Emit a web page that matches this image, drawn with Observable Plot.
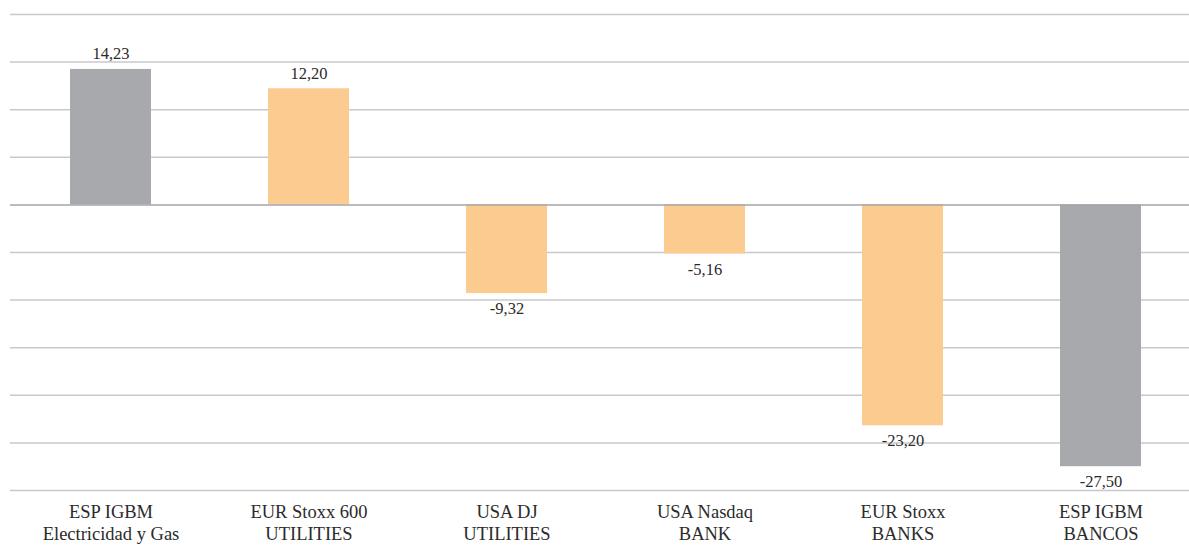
<!DOCTYPE html>
<html>
<head>
<meta charset="utf-8">
<script src="https://cdn.jsdelivr.net/npm/d3@7"></script>
<script src="https://cdn.jsdelivr.net/npm/@observablehq/plot@0.6"></script>
<style>
  html, body { margin: 0; padding: 0; background: #fff; }
  #chart svg { display: block; }
  #chart svg, #chart svg text { font-family: "Liberation Serif", "DejaVu Serif", serif !important; }
</style>
</head>
<body>
<div id="chart"></div>
<script>
const categories = [
  "ESP IGBM\nElectricidad y Gas",
  "EUR Stoxx 600\nUTILITIES",
  "USA DJ\nUTILITIES",
  "USA Nasdaq\nBANK",
  "EUR Stoxx\nBANKS",
  "ESP IGBM\nBANCOS"
];
const values = [14.23, 12.20, -9.32, -5.16, -23.20, -27.50];
const groups = ["ESP", "INT", "INT", "INT", "INT", "ESP"];
const gridTicks = [20, 15, 10, 5, -5, -10, -15, -20, -25, -30];

const data = categories.map((c, i) => ({cat: c, value: values[i], group: groups[i]}));
const fmt = v => v.toFixed(2).replace(".", ",");
const font = "Liberation Serif";

const chart = Plot.plot({
  width: 1189,
  height: 545,
  marginTop: 14,
  marginBottom: 55,
  marginLeft: 10,
  marginRight: 0,
  style: {fontFamily: font, color: "#2b2b2b", background: "#fff"},
  x: {domain: categories, range: [10, 1201], paddingInner: 0.59, paddingOuter: 0.295, label: null},
  y: {domain: [-30, 20], axis: null},
  color: {domain: ["ESP", "INT"], range: ["#a8a9ad", "#fccb90"]},
  marks: [
    Plot.ruleY(gridTicks, {stroke: "#c9c9cb", strokeWidth: 1.5}),
    Plot.barY(data, {x: "cat", y: "value", fill: "group"}),
    Plot.ruleY([0], {stroke: "#a3a4a8", strokeWidth: 1.5}),
    Plot.text(data.filter(d => d.value >= 0), {
      x: "cat", y: "value", text: d => fmt(d.value),
      lineAnchor: "bottom", dy: -10, fontSize: 16.5, fontFamily: font, fill: "#2b2b2b"
    }),
    Plot.text(data.filter(d => d.value < 0), {
      x: "cat", y: "value", text: d => fmt(d.value),
      lineAnchor: "top", dy: 9, fontSize: 16.5, fontFamily: font, fill: "#2b2b2b"
    }),
    Plot.axisX({
      tickSize: 0, tickPadding: 11, fontSize: 18.5, lineHeight: 1.22,
      fontFamily: font, label: null, fill: "#2b2b2b"
    })
  ]
});
document.getElementById("chart").appendChild(chart);
</script>
</body>
</html>
